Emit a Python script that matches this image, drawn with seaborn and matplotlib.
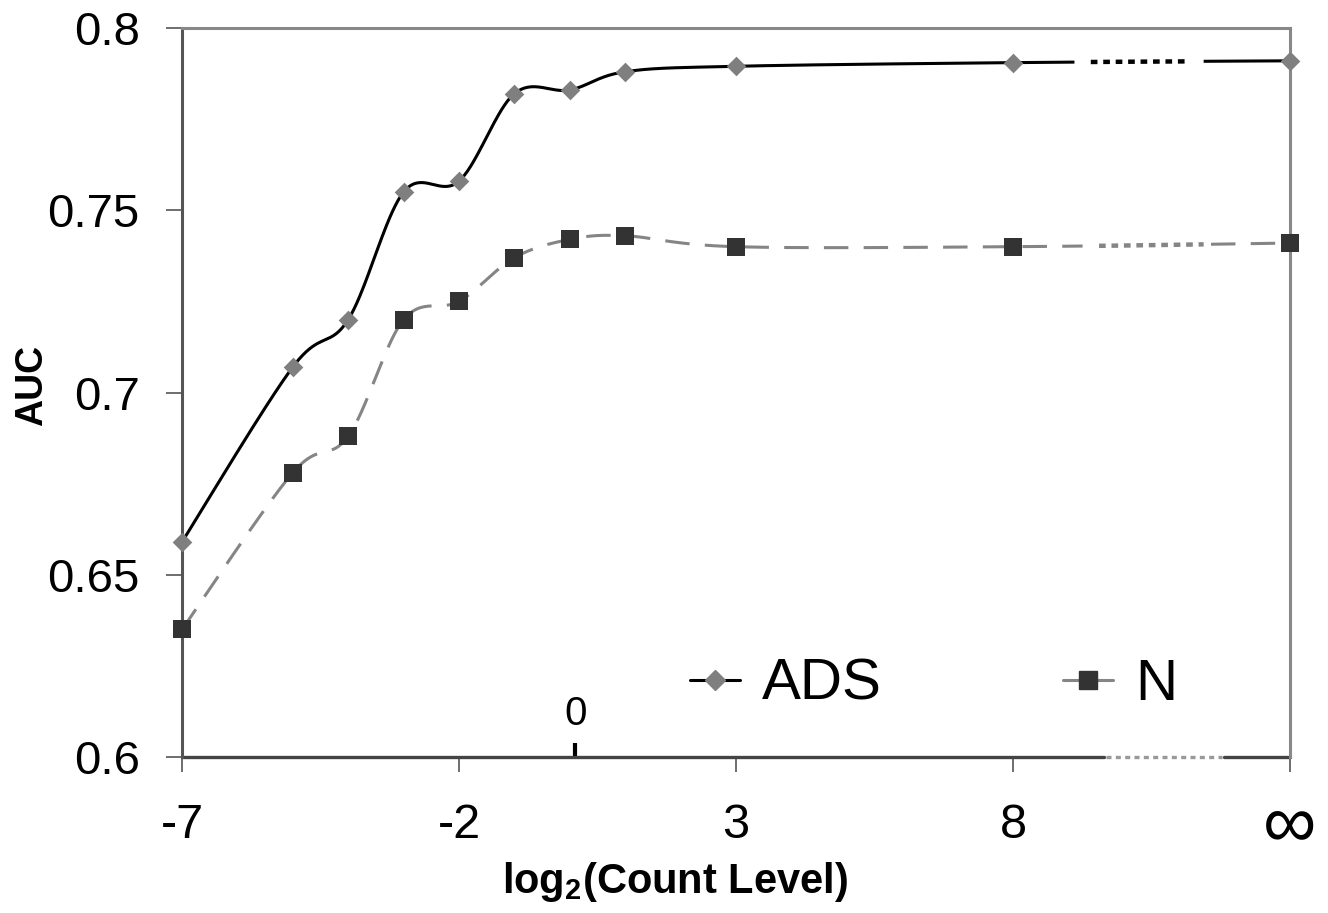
import numpy as np
import pandas as pd
import matplotlib
matplotlib.use("Agg")
import matplotlib.pyplot as plt
from matplotlib.lines import Line2D
import seaborn as sns

# values (x = log2 count level, 13 stands for infinity)
x_vals = [-7, -5, -4, -3, -2, -1, 0, 1, 3, 8, 13]
ads_auc = [0.659, 0.707, 0.720, 0.755, 0.758, 0.782, 0.783, 0.788, 0.7895, 0.7905, 0.791]
n_auc = [0.635, 0.678, 0.688, 0.720, 0.725, 0.737, 0.742, 0.743, 0.740, 0.740, 0.741]
x_ticks = [-7, -2, 3, 8, 13]
x_ticklabels = ["-7", "-2", "3", "8", "\u221e"]
y_ticks = [0.6, 0.65, 0.7, 0.75, 0.8]
y_ticklabels = ["0.6", "0.65", "0.7", "0.75", "0.8"]

df = pd.DataFrame({"x": x_vals, "ADS": ads_auc, "N": n_auc})

sns.set_style("white")
plt.rcParams["font.family"] = ["Liberation Sans", "DejaVu Sans"]
plt.rcParams["mathtext.fontset"] = "custom"
plt.rcParams["mathtext.rm"] = "Liberation Sans"
plt.rcParams["mathtext.bf"] = "Liberation Sans:bold"
plt.rcParams["text.color"] = "black"
plt.rcParams["axes.labelcolor"] = "black"

fig = plt.figure(figsize=(13.28, 9.13), dpi=100)
ax = fig.add_axes([182 / 1328, 1 - 757 / 913, 1108 / 1328, 729 / 913])
ax.set_xlim(-7, 13)
ax.set_ylim(0.6, 0.8)


def smooth(x, y, n=40):
    # excel-like smoothed line (bezier through the points, in pixel space)
    sx, sy = 55.4, 3645.0
    P = np.column_stack([np.asarray(x, float) * sx, np.asarray(y, float) * sy])
    out = []
    for i in range(len(P) - 1):
        p0 = P[i - 1] if i > 0 else P[i]
        p1, p2 = P[i], P[i + 1]
        p3 = P[i + 2] if i + 2 < len(P) else P[i + 1]
        c1 = p1 + (p2 - p0) / 6
        c2 = p2 - (p3 - p1) / 6
        t = np.linspace(0, 1, n)[:, None]
        seg = (1 - t) ** 3 * p1 + 3 * (1 - t) ** 2 * t * c1 + 3 * (1 - t) * t ** 2 * c2 + t ** 3 * p2
        out.append(seg if i == 0 else seg[1:])
    out = np.vstack(out)
    return out[:, 0] / sx, out[:, 1] / sy


def draw_broken(x, y, color, ls, lw, gap, dot):
    cx, cy = smooth(x, y)
    a = cx <= gap[0]
    b = (cx >= dot[0]) & (cx <= dot[1])
    c = cx >= gap[1]
    ax.plot(cx[a], cy[a], color=color, ls=ls, lw=lw, solid_capstyle="butt")
    ax.plot(cx[b], cy[b], color=color, ls=(0, (1.5, 1.3)), lw=lw + 1.0, dash_capstyle="butt")
    ax.plot(cx[c], cy[c], color=color, ls=ls, lw=lw, solid_capstyle="butt")


draw_broken(df["x"], df["ADS"], "black", "-", 2.2, (9.17, 11.41), (9.26, 11.25))
draw_broken(df["x"], df["N"], "#858585", (0, (8, 5)), 2.2, (9.4, 11.5), (9.44, 11.45))

sns.scatterplot(data=df, x="x", y="ADS", marker="D", s=10 ** 2, color="#7f7f7f",
                linewidth=0, clip_on=False, zorder=5, ax=ax)
sns.scatterplot(data=df, x="x", y="N", marker="s", s=13 ** 2, color="#333333",
                linewidth=0, clip_on=False, zorder=5, ax=ax)

# frame
for side in ["top", "right"]:
    ax.spines[side].set_color("#888888")
    ax.spines[side].set_linewidth(2.2)
ax.spines["left"].set_color("#555555")
ax.spines["left"].set_linewidth(2.2)
ax.spines["bottom"].set_visible(False)
xt = ax.get_xaxis_transform()
ax.plot([-7, 9.64], [0, 0], color="#444444", lw=2.4, transform=xt, clip_on=False)
ax.plot([9.68, 11.78], [0, 0], color="#999999", lw=2.4, ls=(0, (1.5, 1.3)),
        transform=xt, clip_on=False)
ax.plot([11.8, 13], [0, 0], color="#444444", lw=2.4, transform=xt, clip_on=False)

ax.set_xticks(x_ticks)
ax.set_xticklabels(x_ticklabels)
ax.set_yticks(y_ticks)
ax.set_yticklabels(y_ticklabels)
ax.tick_params(axis="x", which="major", direction="out", length=11, width=1.2,
               color="#555555", labelcolor="black", labelsize=35, pad=22, bottom=True)
ax.tick_params(axis="y", direction="out", length=11.5, width=1.2,
               color="#555555", labelcolor="black", labelsize=34, pad=19, left=True)
inf_label = ax.get_xticklabels()[-1]
inf_label.set_fontsize(54)
inf_label.set_y(11 / 729)

# the "0" mark on the axis
ax.set_xticks([0.1], minor=True)
ax.set_xticklabels(["0"], minor=True)
ax.tick_params(axis="x", which="minor", direction="in", length=10, width=3,
               color="black", labelcolor="black", labelsize=29, pad=-45, bottom=True)

ax.set_ylabel("AUC", fontsize=27, fontweight="bold")
ax.yaxis.set_label_coords(-0.119, 0.51)
ax.set_xlabel(r"log$_\mathbf{2}$(Count Level)", fontsize=30, fontweight="bold")
ax.xaxis.set_label_coords(0.445, -0.141)

handles = [
    Line2D([], [], color="black", lw=2.2, marker="D", ms=10, mfc="#7f7f7f", mec="#7f7f7f"),
    Line2D([], [], color="#858585", lw=2.2, marker="s", ms=13, mfc="#333333", mec="#333333"),
]
ax.legend(handles, ["ADS", "N"], ncol=2, frameon=False, fontsize=42,
          handlelength=0.86, handletextpad=0.38, columnspacing=3.1,
          loc="center left", bbox_to_anchor=(0.4585, 0.0988),
          borderpad=0, borderaxespad=0)

fig.savefig("out.png", dpi=100)
